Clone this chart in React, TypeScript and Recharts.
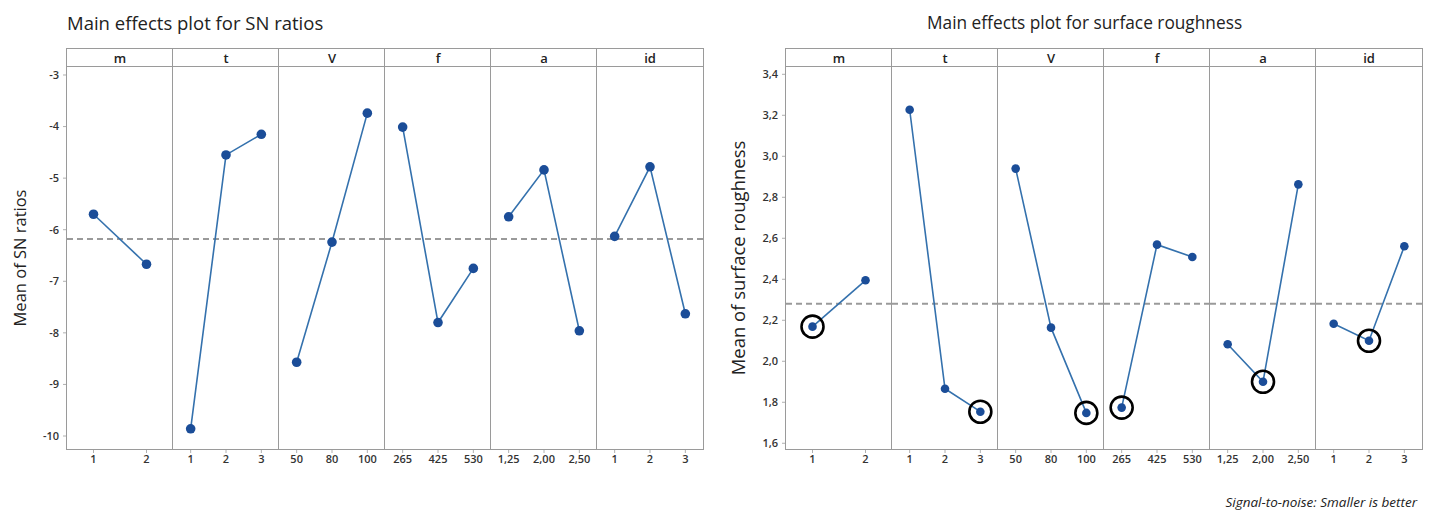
import React from 'react';
import { LineChart, Line, XAxis, YAxis, ReferenceLine } from 'recharts';

// ---------- data ----------
const factors = ['m', 't', 'V', 'f', 'a', 'id'];

const levelsM = ['1', '2'];
const levelsT = ['1', '2', '3'];
const levelsV = ['50', '80', '100'];
const levelsF = ['265', '425', '530'];
const levelsA = ['1,25', '2,00', '2,50'];
const levelsId = ['1', '2', '3'];

const snM = [-5.7, -6.67];
const snT = [-9.86, -4.55, -4.15];
const snV = [-8.57, -6.24, -3.74];
const snF = [-4.01, -7.8, -6.75];
const snA = [-5.75, -4.84, -7.96];
const snId = [-6.13, -4.78, -7.63];
const snMean = -6.18;

const raM = [2.169, 2.395];
const raT = [3.227, 1.866, 1.754];
const raV = [2.94, 2.164, 1.748];
const raF = [1.774, 2.569, 2.509];
const raA = [2.083, 1.9, 2.863];
const raId = [2.183, 2.1, 2.561];
const raMean = 2.28;

const snTicks = [-3, -4, -5, -6, -7, -8, -9, -10];
const raTicks = [1.6, 1.8, 2.0, 2.2, 2.4, 2.6, 2.8, 3.0, 3.2, 3.4];

const levels = [levelsM, levelsT, levelsV, levelsF, levelsA, levelsId];
const snSeries = [snM, snT, snV, snF, snA, snId];
const raSeries = [raM, raT, raV, raF, raA, raId];

// ---------- layout ----------
const FONT = '"Open Sans", "Noto Sans", sans-serif';
const FACET_W = 106;
const FRAME_TOP = 49;
const HEADER_BOTTOM = 67;
const PLOT_BOTTOM = 449;
const PLOT_H = PLOT_BOTTOM - HEADER_BOTTOM;
const XAXIS_H = 30;
const YAXIS_W = 50;
const GRAY = '#9a9a9a';
const LINE_COLOR = '#3471ad';
const DOT_COLOR = '#1b4d98';

type PanelProps = {
  left: number;
  title: string;
  titleX: number;
  titleSize: number;
  yLabel: string;
  yLabelX: number;
  yLabelSize: number;
  series: number[][];
  mean: number;
  domain: [number, number];
  ticks: number[];
  fmt: (v: number) => string;
  highlight: boolean;
  dotR: number;
};

function Facet({
  idx, cats, values, p, }: { idx: number; cats: string[]; values: number[]; p: PanelProps }) {
  const data = cats.map((c, i) => ({ level: c, value: values[i] }));
  const minVal = Math.min(...values);
  const first = idx === 0;
  const w = FACET_W + (first ? YAXIS_W : 0);
  const pad = FACET_W / (2 * cats.length);
  const renderDot = (props: any) => {
    const { cx, cy, payload, index } = props;
    if (cx == null || cy == null) return <g key={`d${index}`} />;
    const ring = p.highlight && payload.value === minVal;
    return (
      <g key={`d${index}`}>
        <circle cx={cx} cy={cy} r={p.dotR} fill={DOT_COLOR} stroke="none" />
        {ring && <circle cx={cx} cy={cy} r={11} fill="none" stroke="#000" strokeWidth={2.6} />}
      </g>
    );
  };
  return (
    <div style={{ position: 'absolute', left: p.left + idx * FACET_W - (first ? YAXIS_W : 0), top: HEADER_BOTTOM }}>
      <LineChart width={w} height={PLOT_H + XAXIS_H} data={data} margin={{ top: 0, right: 0, bottom: 0, left: 0 }}>
        <XAxis
          dataKey="level"
          type="category"
          height={XAXIS_H}
          padding={{ left: pad, right: pad }}
          axisLine={false}
          tickLine={{ stroke: '#b0b0b0' }}
          tickSize={4}
          interval={0}
          tick={{ fontSize: 11, fontWeight: 600, fill: '#333', fontFamily: FONT }}
        />
        <YAxis
          type="number"
          domain={p.domain}
          allowDataOverflow
          ticks={p.ticks}
          hide={!first}
          width={YAXIS_W}
          axisLine={false}
          tickLine={{ stroke: '#b0b0b0' }}
          tickSize={4}
          tickMargin={4}
          tickFormatter={p.fmt}
          tick={{ fontSize: 11, fontWeight: 600, fill: '#333', fontFamily: FONT }}
        />
        <ReferenceLine y={p.mean} stroke={GRAY} strokeWidth={2} strokeDasharray="6 4" />
        <Line
          type="linear"
          dataKey="value"
          stroke={LINE_COLOR}
          strokeWidth={1.6}
          dot={renderDot}
          activeDot={false}
          isAnimationActive={false}
        />
      </LineChart>
    </div>
  );
}

function Panel(p: PanelProps) {
  const totalW = FACET_W * factors.length;
  return (
    <>
      <div style={{ position: 'absolute', left: p.titleX, top: 11, fontFamily: FONT, fontSize: p.titleSize, lineHeight: '24px', color: '#222', whiteSpace: 'nowrap' }}>
        {p.title}
      </div>
      <div
        style={{
          position: 'absolute', left: p.yLabelX, top: (HEADER_BOTTOM + PLOT_BOTTOM) / 2, transform: 'translate(-50%, -50%) rotate(-90deg)',
          fontFamily: FONT, fontSize: p.yLabelSize, color: '#222', whiteSpace: 'nowrap',
        }}
      >
        {p.yLabel}
      </div>
      {factors.map((f, i) => (
        <Facet key={f} idx={i} cats={levels[i]} values={p.series[i]} p={p} />
      ))}
      {/* frame */}
      <div style={{ position: 'absolute', left: p.left - 1, top: FRAME_TOP - 1, width: totalW, height: PLOT_BOTTOM - FRAME_TOP, border: `1.5px solid ${GRAY}`, pointerEvents: 'none' }} />
      <div style={{ position: 'absolute', left: p.left, top: HEADER_BOTTOM - 1, width: totalW, height: 0, borderTop: `1.5px solid ${GRAY}` }} />
      {factors.map((f, i) => (
        <React.Fragment key={'h' + f}>
          {i > 0 && (
            <div style={{ position: 'absolute', left: p.left + i * FACET_W - 1, top: FRAME_TOP, width: 0, height: PLOT_BOTTOM - FRAME_TOP, borderLeft: `1.5px solid ${GRAY}` }} />
          )}
          <div style={{ position: 'absolute', left: p.left + i * FACET_W, top: FRAME_TOP, width: FACET_W, height: HEADER_BOTTOM - FRAME_TOP, lineHeight: `${HEADER_BOTTOM - FRAME_TOP}px`, textAlign: 'center', fontFamily: FONT, fontSize: 13, fontWeight: 600, color: '#222' }}>
            {f}
          </div>
        </React.Fragment>
      ))}
    </>
  );
}

export default function App() {
  return (
    <div style={{ position: 'absolute', left: 0, top: 0, width: 1431, height: 514, background: '#fff', overflow: 'hidden' }}>
      <Panel
        left={67}
        title="Main effects plot for SN ratios"
        titleX={67}
        titleSize={18.5}
        yLabel="Mean of SN ratios"
        yLabelX={19}
        yLabelSize={16.5}
        series={snSeries}
        mean={snMean}
        domain={[-10.252, -2.845]}
        ticks={snTicks}
        fmt={(v) => String(v)}
        highlight={false}
        dotR={4.8}
      />
      <Panel
        left={786}
        title="Main effects plot for surface roughness"
        titleX={927}
        titleSize={17.3}
        yLabel="Mean of surface roughness"
        yLabelX={737}
        yLabelSize={18.5}
        series={raSeries}
        mean={raMean}
        domain={[1.572, 3.4356]}
        ticks={raTicks}
        fmt={(v) => v.toFixed(1).replace('.', ',')}
        highlight={true}
        dotR={4.3}
      />
      <div style={{ position: 'absolute', right: 14, top: 493, fontFamily: FONT, fontStyle: 'italic', fontSize: 13.5, color: '#222', whiteSpace: 'nowrap' }}>
        Signal-to-noise: Smaller is better
      </div>
    </div>
  );
}
